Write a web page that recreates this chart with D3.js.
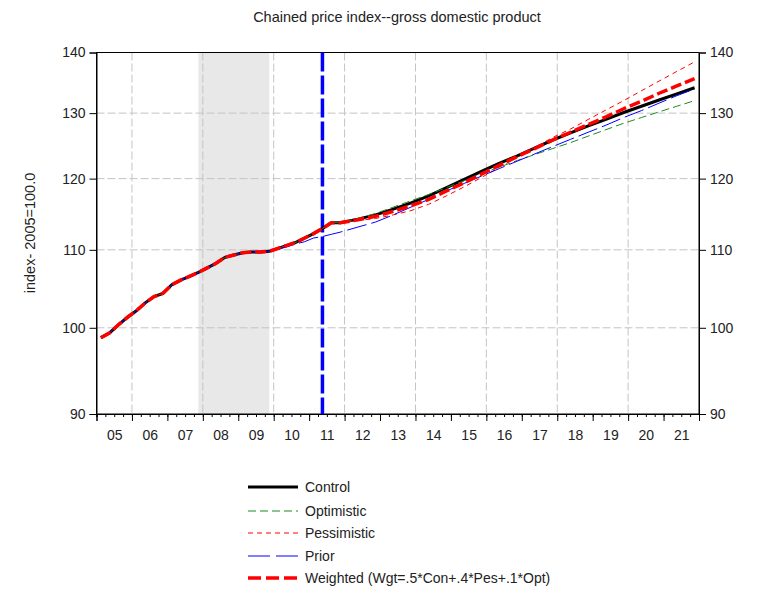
<!DOCTYPE html>
<html>
<head>
<meta charset="utf-8">
<script src="https://cdn.jsdelivr.net/npm/d3@7"></script>
<style>
  body { margin: 0; background: #fff; }
  svg text { font-family: "Liberation Sans Narrow", "Arial Narrow", "Liberation Sans", sans-serif; fill: #222; }
</style>
</head>
<body>
<svg id="chart" width="758" height="594"></svg>
<script>
// history shared by all scenarios, 2005Q1 - 2011Q4
const histQuarters = [
  "2005Q1","2005Q2","2005Q3","2005Q4","2006Q1","2006Q2","2006Q3","2006Q4",
  "2007Q1","2007Q2","2007Q3","2007Q4","2008Q1","2008Q2","2008Q3","2008Q4",
  "2009Q1","2009Q2","2009Q3","2009Q4","2010Q1","2010Q2","2010Q3","2010Q4",
  "2011Q1","2011Q2","2011Q3","2011Q4"
];
const history = [
  98.8, 99.4, 100.4, 101.3, 102.1, 103.1, 103.9, 104.3,
  105.4, 106.0, 106.5, 107.0, 107.6, 108.2, 109.0, 109.3,
  109.6, 109.7, 109.7, 109.8, 110.2, 110.6, 111.0, 111.6,
  112.2, 112.9, 113.7, 113.7
];

// forecast scenarios (semiannual points)
const fcQuarters = [
  "2011Q4","2012Q2","2012Q4","2013Q2","2013Q4","2014Q2","2014Q4","2015Q2","2015Q4",
  "2016Q2","2016Q4","2017Q2","2017Q4","2018Q2","2018Q4","2019Q2","2019Q4",
  "2020Q2","2020Q4","2021Q2","2021Q4"
];
const control     = [113.7,114.2,114.8,115.6,116.5,117.5,118.7,119.9,121.1,122.3,123.4,124.6,125.8,126.9,128.0,129.0,130.1,131.1,132.1,133.1,134.1];
const optimistic  = [113.7,114.3,115.0,115.9,116.8,117.7,118.7,119.7,120.8,121.7,122.7,123.6,124.5,125.4,126.4,127.4,128.4,129.3,130.2,131.1,132.0];
const pessimistic = [113.7,114.0,114.3,114.8,115.4,116.3,117.5,118.8,120.2,121.7,123.2,124.7,126.2,127.5,129.0,130.5,132.0,133.6,135.2,136.8,138.4];
const weighted    = [113.7,114.1,114.6,115.3,116.1,117.0,118.2,119.4,120.7,122.0,123.3,124.5,125.8,127.0,128.2,129.4,130.7,131.9,133.2,134.4,135.6];

// prior forecast vintage
const priorQuarters = [
  "2009Q4","2010Q1","2010Q2","2010Q3","2010Q4","2011Q1","2011Q2","2011Q3","2011Q4",
  "2012Q2","2012Q4","2013Q2","2013Q4","2014Q2","2014Q4","2015Q2","2015Q4",
  "2016Q2","2016Q4","2017Q2","2017Q4","2018Q2","2018Q4","2019Q2","2019Q4",
  "2020Q2","2020Q4","2021Q2","2021Q4"
];
const prior = [
  109.8, 110.1, 110.4, 110.8, 111.1, 111.6, 111.8, 112.1, 112.4,
  113.1, 113.8, 114.8, 115.9, 117.0, 118.2, 119.3, 120.4,
  121.5, 122.6, 123.7, 124.8, 125.9, 127.0, 128.1, 129.3,
  130.4, 131.6, 132.8, 133.9
];

const yearLabels = ["05","06","07","08","09","10","11","12","13","14","15","16","17","18","19","20","21"];
const yTicks = [90, 100, 110, 120, 130, 140];
const gridValues = [100, 110, 120, 130];
const gridYears = [2006, 2008, 2010, 2012, 2014, 2016, 2018, 2020];
const recession = [2007.875, 2009.875];
const lastActual = "2011Q2";

// quarter string -> decimal year at the middle of the quarter
function qx(s) {
  return +s.slice(0, 4) + (+s.slice(5) - 1) / 4 + 0.125;
}

const plotLeft = 96.5, plotRight = 699, plotTop = 52.5, plotBottom = 414;

const svg = d3.select("#chart");

const x = d3.scaleLinear().domain([2005, 2022]).range([plotLeft, plotRight]);
const y = d3.scaleLog().domain([90, 140]).range([plotBottom, plotTop]);

// recession shading
svg.append("rect")
  .attr("x", x(recession[0]))
  .attr("y", plotTop)
  .attr("width", x(recession[1]) - x(recession[0]))
  .attr("height", plotBottom - plotTop)
  .attr("fill", "#e8e8e8");

// grid lines
svg.append("g").selectAll("line")
  .data(gridValues)
  .enter()
  .append("line")
  .attr("x1", plotLeft).attr("x2", plotRight)
  .attr("y1", (d) => y(d)).attr("y2", (d) => y(d))
  .attr("stroke", "#c4c4c4")
  .attr("stroke-dasharray", "8,3");

svg.append("g").selectAll("line")
  .data(gridYears)
  .enter()
  .append("line")
  .attr("x1", (d) => x(d)).attr("x2", (d) => x(d))
  .attr("y1", plotTop).attr("y2", plotBottom)
  .attr("stroke", "#c4c4c4")
  .attr("stroke-dasharray", "8,3");

// axes
const fmt = d3.format("d");
svg.append("g")
  .attr("transform", "translate(" + plotLeft + ",0)")
  .call(d3.axisLeft(y).tickValues(yTicks).tickSize(7).tickPadding(4).tickFormat(fmt));
svg.append("g")
  .attr("transform", "translate(" + plotRight + ",0)")
  .call(d3.axisRight(y).tickValues(yTicks).tickSize(7).tickPadding(4).tickFormat(fmt));

const quarterTicks = d3.range(0, 69).map((i) => 2005 + i / 4);
const yearTicks = d3.range(2005, 2023);
svg.append("g")
  .attr("transform", "translate(0," + plotBottom + ")")
  .call(d3.axisBottom(x).tickValues(quarterTicks).tickSize(3).tickFormat(""));
svg.append("g")
  .attr("transform", "translate(0," + plotBottom + ")")
  .call(d3.axisBottom(x).tickValues(yearTicks).tickSize(7).tickFormat(""));
const labelAxis = svg.append("g")
  .attr("transform", "translate(0," + plotBottom + ")")
  .call(d3.axisBottom(x)
    .tickValues(yearLabels.map((d, i) => 2005.5 + i))
    .tickSize(0).tickPadding(16)
    .tickFormat((d, i) => yearLabels[i]));
labelAxis.select(".domain").remove();

svg.selectAll(".tick text").attr("font-size", 14).attr("font-family", null).attr("fill", null);
svg.selectAll(".domain").attr("stroke", "#000");
svg.selectAll(".tick line").attr("stroke", "#000");

// frame
svg.append("rect")
  .attr("x", plotLeft).attr("y", plotTop)
  .attr("width", plotRight - plotLeft).attr("height", plotBottom - plotTop)
  .attr("fill", "none").attr("stroke", "#000");

// vertical forecast marker
svg.append("line")
  .attr("x1", x(qx(lastActual))).attr("x2", x(qx(lastActual)))
  .attr("y1", plotTop).attr("y2", plotBottom)
  .attr("stroke", "#0000ff")
  .attr("stroke-width", 3.5)
  .attr("stroke-dasharray", "19,4");

// series
const line = d3.line()
  .x((d) => x(qx(d.q)))
  .y((d) => y(d.v));

function withHistory(values) {
  const pts = histQuarters.map((q, i) => ({ q: q, v: history[i] }));
  fcQuarters.forEach((q, i) => { if (i > 0) pts.push({ q: q, v: values[i] }); });
  return pts;
}

const series = [
  { name: "Control", pts: withHistory(control), color: "#000", width: 3, dash: null },
  { name: "Optimistic", pts: withHistory(optimistic), color: "#1f8a1f", width: 1, dash: "8,4" },
  { name: "Pessimistic", pts: withHistory(pessimistic), color: "#ff0000", width: 1, dash: "5,4" },
  {
    name: "Prior",
    pts: histQuarters.slice(0, 19).map((q, i) => ({ q: q, v: history[i] }))
      .concat(priorQuarters.map((q, i) => ({ q: q, v: prior[i] }))),
    color: "#0000ff", width: 1, dash: "20,5"
  },
  { name: "Weighted (Wgt=.5*Con+.4*Pes+.1*Opt)", pts: withHistory(weighted), color: "#ff0000", width: 3.5, dash: "11,4" }
];

svg.append("g").selectAll("path")
  .data(series)
  .enter()
  .append("path")
  .attr("d", (d) => line(d.pts))
  .attr("fill", "none")
  .attr("stroke", (d) => d.color)
  .attr("stroke-width", (d) => d.width)
  .attr("stroke-dasharray", (d) => d.dash);

// title and y label
svg.append("text")
  .attr("x", 397).attr("y", 22)
  .attr("text-anchor", "middle")
  .attr("font-size", 14.5)
  .text("Chained price index--gross domestic product");

svg.append("text")
  .attr("transform", "translate(35,233) rotate(-90)")
  .attr("text-anchor", "middle")
  .attr("font-size", 14.5)
  .text("index- 2005=100.0");

// legend
const legendY = [487, 511, 533, 556, 578];
const legend = svg.append("g").selectAll("g")
  .data(series)
  .enter()
  .append("g")
  .attr("transform", (d, i) => "translate(248," + legendY[i] + ")");
legend.append("line")
  .attr("x1", 0).attr("x2", 50)
  .attr("stroke", (d) => d.color)
  .attr("stroke-width", (d) => d.width)
  .attr("stroke-dasharray", (d) => d.name === "Prior" ? "22,6" : d.name.startsWith("Weighted") ? "13,5" : d.dash);
legend.append("text")
  .attr("x", 57).attr("dy", "0.35em")
  .attr("font-size", 14)
  .text((d) => d.name);
</script>
</body>
</html>
